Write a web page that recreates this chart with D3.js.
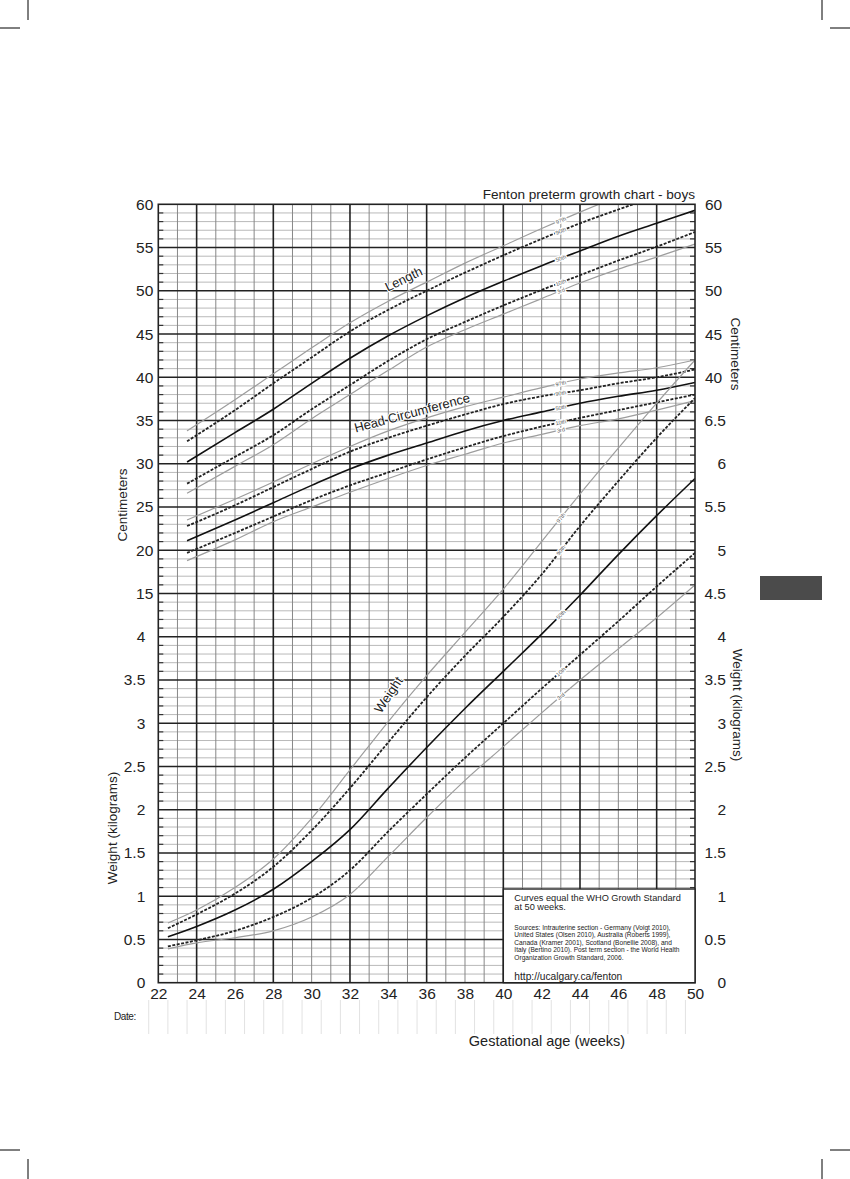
<!DOCTYPE html>
<head>
<meta charset="utf-8">
<script src="https://d3js.org/d3.v7.min.js"></script>
<style>
    body {
        margin: 0;
        background: #fff;
        font-family: "Liberation Sans", Arial, sans-serif;
    }
    text { fill: #222; }
    .minor-h { stroke: #b9b9b9; stroke-width: 1px; }
    .minor-v { stroke: #878787; stroke-width: 1px; }
    .major { stroke: #222; stroke-width: 1.6px; }
    .edge-tick { stroke: #333; stroke-width: 1.2px; }
    .frame { fill: none; stroke: #222; stroke-width: 1.6px; }
    .p50 { fill: none; stroke: #111; stroke-width: 1.6px; }
    .p10 { fill: none; stroke: #222; stroke-width: 1.8px; stroke-dasharray: 3,1.5; }
    .p3  { fill: none; stroke: #9d9d9d; stroke-width: 1.2px; }
    .axis text { font-size: 15.5px; fill: #222; }
    .axis path { display: none; }
    .date-line { stroke: #e2e2e2; stroke-width: 1px; }
    .pct-label { font-size: 5.5px; fill: #555; stroke: #fff; stroke-width: 2.5px; paint-order: stroke; }
    .curve-name { font-size: 13px; fill: #222; stroke: #fff; stroke-width: 2px; paint-order: stroke; }
    .crop { stroke: #000; stroke-width: 1px; }
</style>
</head>
<body>
<div id="vis"></div>
<script>
    // ---------- data ----------
    var weeksLen = [23.5, 26, 28, 30, 32, 34, 36, 38, 40, 42, 44, 46, 48, 50];
    var weeksWt  = [22.5, 24, 26, 28, 30, 32, 34, 36, 38, 40, 42, 44, 46, 48, 50];

    // length (cm)
    var len97 = [33.8, 37.4, 40.4, 43.4, 46.3, 48.8, 51.0, 53.2, 55.2, 57.2, 59.1, 60.9, 62.6, 64.2];
    var len90 = [32.6, 36.2, 39.3, 42.3, 45.3, 47.8, 50.0, 52.1, 54.1, 56.0, 57.8, 59.4, 60.9, 62.3];
    var len50 = [30.2, 33.6, 36.3, 39.3, 42.2, 44.8, 47.1, 49.2, 51.1, 52.9, 54.6, 56.3, 57.8, 59.3];
    var len10 = [27.7, 30.8, 33.3, 36.3, 39.1, 41.9, 44.4, 46.4, 48.3, 50.1, 51.8, 53.5, 55.1, 56.8];
    var len3  = [26.6, 29.7, 32.2, 35.2, 38.0, 40.8, 43.5, 45.5, 47.3, 49.1, 50.9, 52.5, 53.9, 55.4];

    // head circumference (cm)
    var hc97 = [23.5, 25.9, 27.9, 30.0, 32.0, 33.8, 35.3, 36.6, 37.7, 38.8, 39.8, 40.5, 41.1, 42.0];
    var hc90 = [22.8, 25.2, 27.3, 29.4, 31.4, 33.0, 34.4, 35.7, 36.9, 37.8, 38.5, 39.3, 40.0, 40.9];
    var hc50 = [21.1, 23.5, 25.5, 27.5, 29.4, 31.0, 32.4, 33.8, 35.0, 36.0, 37.0, 37.8, 38.5, 39.4];
    var hc10 = [19.7, 22.0, 23.9, 25.8, 27.5, 29.0, 30.5, 31.9, 33.2, 34.3, 35.3, 36.2, 37.1, 38.0];
    var hc3  = [18.8, 21.2, 23.3, 25.0, 26.7, 28.3, 29.8, 31.1, 32.4, 33.4, 34.4, 35.2, 36.2, 37.3];

    // weight (kg)
    var wt97 = [0.69, 0.84, 1.10, 1.43, 1.90, 2.46, 3.02, 3.55, 4.05, 4.55, 5.10, 5.65, 6.18, 6.70, 7.20];
    var wt90 = [0.63, 0.79, 1.03, 1.34, 1.76, 2.25, 2.78, 3.30, 3.78, 4.23, 4.72, 5.28, 5.80, 6.30, 6.76];
    var wt50 = [0.53, 0.65, 0.84, 1.08, 1.40, 1.77, 2.25, 2.72, 3.17, 3.60, 4.03, 4.48, 4.95, 5.40, 5.83];
    var wt10 = [0.42, 0.49, 0.60, 0.76, 0.98, 1.30, 1.75, 2.18, 2.60, 3.00, 3.40, 3.79, 4.18, 4.58, 4.97];
    var wt3  = [0.39, 0.46, 0.52, 0.60, 0.76, 1.02, 1.46, 1.91, 2.34, 2.73, 3.12, 3.50, 3.86, 4.22, 4.60];

    var pctNames = ["97th", "90th", "50th", "10th", "3rd"];

    // tick labels
    var xTicks = [22, 24, 26, 28, 30, 32, 34, 36, 38, 40, 42, 44, 46, 48, 50];
    var cmLeft = [60, 55, 50, 45, 40, 35, 30, 25, 20, 15];
    var kgLeft = [4, 3.5, 3, 2.5, 2, 1.5, 1, 0.5, 0];
    var cmRight = [60, 55, 50, 45, 40];
    var kgRight = [6.5, 6, 5.5, 5, 4.5, 4, 3.5, 3, 2.5, 2, 1.5, 1, 0.5, 0];

    var sources = [
        "Sources: Intrauterine section - Germany (Voigt 2010),",
        "United States (Olsen 2010), Australia (Roberts 1999),",
        "Canada (Kramer 2001), Scotland (Bonellie 2008), and",
        "Italy (Bertino 2010). Post term section - the World Health",
        "Organization Growth Standard, 2006."
    ];

    // ---------- layout ----------
    var W = 850, H = 1179;
    var pL = 158.3, pR = 695, pT = 204.3, pB = 982.7;
    var row = (pB - pT) / 18;

    var x = d3.scaleLinear().domain([22, 50]).range([pL, pR]);
    var yCm = d3.scaleLinear().domain([10, 60]).range([pT + 10 * row, pT]);
    var yKg = d3.scaleLinear().domain([0, 9]).range([pB, pT]);

    var svg = d3.select("#vis").append("svg")
        .attr("width", W)
        .attr("height", H);

    svg.append("defs").append("clipPath").attr("id", "plot-clip")
        .append("rect")
        .attr("x", pL).attr("y", pT)
        .attr("width", pR - pL).attr("height", pB - pT);

    ////////// grid //////////
    var grid = svg.append("g").attr("class", "grid");

    // minor horizontals every 0.1 kg (= 1 cm)
    grid.selectAll(".minor-h")
        .data(d3.range(0, 91).filter(function(k) { return k % 5 != 0; }))
        .enter().append("line")
        .attr("class", "minor-h")
        .attr("x1", pL).attr("x2", pR)
        .attr("y1", function(k) { return yKg(k / 10); })
        .attr("y2", function(k) { return yKg(k / 10); });

    // minor verticals every week
    grid.selectAll(".minor-v")
        .data(d3.range(23, 50).filter(function(w) { return w % 4 != 0; }))
        .enter().append("line")
        .attr("class", "minor-v")
        .attr("y1", pT).attr("y2", pB)
        .attr("x1", function(w) { return x(w); })
        .attr("x2", function(w) { return x(w); });

    // little ticks on both edges
    var edgeTicks = d3.range(1, 90).filter(function(k) { return k % 5 != 0; });
    grid.selectAll(".edge-l")
        .data(edgeTicks).enter().append("line")
        .attr("class", "edge-tick")
        .attr("x1", pL).attr("x2", pL + 5)
        .attr("y1", function(k) { return yKg(k / 10); })
        .attr("y2", function(k) { return yKg(k / 10); });
    grid.selectAll(".edge-r")
        .data(edgeTicks).enter().append("line")
        .attr("class", "edge-tick")
        .attr("x1", pR - 5).attr("x2", pR)
        .attr("y1", function(k) { return yKg(k / 10); })
        .attr("y2", function(k) { return yKg(k / 10); });

    // major lines
    grid.selectAll(".major-h")
        .data(d3.range(1, 18))
        .enter().append("line")
        .attr("class", "major")
        .attr("x1", pL).attr("x2", pR)
        .attr("y1", function(k) { return yKg(k / 2); })
        .attr("y2", function(k) { return yKg(k / 2); });

    grid.selectAll(".major-v")
        .data([24, 28, 32, 36, 40, 44, 48])
        .enter().append("line")
        .attr("class", "major")
        .attr("y1", pT).attr("y2", pB)
        .attr("x1", function(w) { return x(w); })
        .attr("x2", function(w) { return x(w); });

    ////////// curves //////////
    var curves = svg.append("g").attr("clip-path", "url(#plot-clip)");
    var styleOf = { "97th": "p3", "90th": "p10", "50th": "p50", "10th": "p10", "3rd": "p3" };

    var groups = [
        { weeks: weeksLen, scale: yCm, series: [len97, len90, len50, len10, len3] },
        { weeks: weeksLen, scale: yCm, series: [hc97, hc90, hc50, hc10, hc3] },
        { weeks: weeksWt, scale: yKg, series: [wt97, wt90, wt50, wt10, wt3] }
    ];

    function valueAt(weeks, vals, w) {
        for (var i = 1; i < weeks.length; i++) {
            if (w <= weeks[i]) {
                var t = (w - weeks[i - 1]) / (weeks[i] - weeks[i - 1]);
                return vals[i - 1] + t * (vals[i] - vals[i - 1]);
            }
        }
        return vals[vals.length - 1];
    }

    groups.forEach(function(g) {
        var line = d3.line()
            .x(function(d, i) { return x(g.weeks[i]); })
            .y(function(d) { return g.scale(d); })
            .curve(d3.curveMonotoneX);

        g.series.forEach(function(s, j) {
            curves.append("path")
                .attr("class", styleOf[pctNames[j]])
                .attr("d", line(s));
        });
    });

    // small percentile tags sitting on the curves at 43 weeks
    groups.forEach(function(g) {
        g.series.forEach(function(s, j) {
            var px = x(43), py = g.scale(valueAt(g.weeks, s, 43));
            var py2 = g.scale(valueAt(g.weeks, s, 44));
            var ang = Math.atan2(py2 - py, x(44) - px) * 180 / Math.PI;
            svg.append("text")
                .attr("class", "pct-label")
                .attr("text-anchor", "middle")
                .attr("dy", "0.35em")
                .attr("transform", "translate(" + px + "," + py + ") rotate(" + ang + ")")
                .text(pctNames[j]);
        });
    });

    // curve names
    svg.append("text").attr("class", "curve-name")
        .attr("text-anchor", "middle")
        .attr("transform", "translate(" + x(34.9) + "," + yCm(50.9) + ") rotate(-26)")
        .text("Length");
    svg.append("text").attr("class", "curve-name")
        .attr("text-anchor", "middle")
        .attr("transform", "translate(" + x(35.3) + "," + yCm(35.4) + ") rotate(-15)")
        .text("Head Circumference");
    svg.append("text").attr("class", "curve-name")
        .attr("text-anchor", "middle")
        .attr("transform", "translate(" + x(34.2) + "," + yKg(3.3) + ") rotate(-56)")
        .text("Weight");

    ////////// frame //////////
    svg.append("rect").attr("class", "frame")
        .attr("x", pL).attr("y", pT)
        .attr("width", pR - pL).attr("height", pB - pT);

    ////////// note box //////////
    var box = svg.append("g");
    var bx = x(40) + 11;
    box.append("rect")
        .attr("x", x(40)).attr("y", 889)
        .attr("width", pR - x(40)).attr("height", pB - 889)
        .attr("fill", "#fff").attr("stroke", "#222").attr("stroke-width", 1.4);
    box.append("text").attr("x", bx).attr("y", 901)
        .style("font-size", "9.2px").text("Curves equal the WHO Growth Standard");
    box.append("text").attr("x", bx).attr("y", 910)
        .style("font-size", "9.2px").text("at 50 weeks.");
    box.selectAll(".src").data(sources).enter().append("text")
        .attr("x", bx)
        .attr("y", function(d, i) { return 929.5 + i * 7.5; })
        .style("font-size", "6.6px")
        .text(function(d) { return d; });
    box.append("text").attr("x", bx).attr("y", 979.5)
        .style("font-size", "10.2px").text("http://ucalgary.ca/fenton");

    ////////// axes //////////
    var fmt = function(d) { return String(d); };
    svg.append("g").attr("class", "axis")
        .attr("transform", "translate(" + pL + ",0)")
        .call(d3.axisLeft(yCm).tickValues(cmLeft).tickFormat(fmt).tickSize(0).tickPadding(5));
    svg.append("g").attr("class", "axis")
        .attr("transform", "translate(" + pL + ",0)")
        .call(d3.axisLeft(yKg).tickValues(kgLeft).tickFormat(fmt).tickSize(0).tickPadding(13));
    svg.append("g").attr("class", "axis")
        .attr("transform", "translate(" + pR + ",0)")
        .call(d3.axisRight(yCm).tickValues(cmRight).tickFormat(fmt).tickSize(0).tickPadding(10));
    var rk = svg.append("g").attr("class", "axis")
        .attr("transform", "translate(" + pR + ",0)")
        .call(d3.axisRight(yKg).tickValues(kgRight).tickFormat(fmt).tickSize(0).tickPadding(31));
    rk.selectAll("text").attr("text-anchor", "end");
    svg.append("g").attr("class", "axis")
        .attr("transform", "translate(0," + pB + ")")
        .call(d3.axisBottom(x).tickValues(xTicks).tickFormat(fmt).tickSize(0).tickPadding(5));

    // axis titles
    function vTitle(tx, ty, rot, txt) {
        svg.append("text")
            .attr("text-anchor", "middle")
            .attr("transform", "translate(" + tx + "," + ty + ") rotate(" + rot + ")")
            .style("font-size", "13.5px")
            .text(txt);
    }
    vTitle(127, 505, -90, "Centimeters");
    vTitle(117, 828, -90, "Weight (kilograms)");
    vTitle(731, 354, 90, "Centimeters");
    vTitle(733, 705, 90, "Weight (kilograms)");

    svg.append("text")
        .attr("x", pR).attr("y", 199)
        .attr("text-anchor", "end")
        .style("font-size", "13.6px")
        .text("Fenton preterm growth chart - boys");

    // date row
    svg.append("text").attr("x", 114).attr("y", 1019.5)
        .style("font-size", "10px").style("letter-spacing", "-0.4px").text("Date:");
    svg.selectAll(".date-line")
        .data(d3.range(21.5, 50, 1))
        .enter().append("line")
        .attr("class", "date-line")
        .attr("x1", function(w) { return x(w); })
        .attr("x2", function(w) { return x(w); })
        .attr("y1", 1000).attr("y2", 1034);

    svg.append("text")
        .attr("x", 547).attr("y", 1046)
        .attr("text-anchor", "middle")
        .style("font-size", "14.5px")
        .text("Gestational age (weeks)");

    // side tab
    svg.append("rect")
        .attr("x", 760).attr("y", 576).attr("width", 62).attr("height", 24)
        .attr("fill", "#4b4b4b");

    // crop marks
    var crops = [
        [28, 0, 28, 20], [0, 28, 20, 28],
        [822, 0, 822, 20], [830, 28, 850, 28],
        [0, 1150, 20, 1150], [28, 1159, 28, 1179],
        [830, 1150, 850, 1150], [822, 1159, 822, 1179]
    ];
    svg.selectAll(".crop").data(crops).enter().append("line")
        .attr("class", "crop")
        .attr("x1", function(d) { return d[0]; })
        .attr("y1", function(d) { return d[1]; })
        .attr("x2", function(d) { return d[2]; })
        .attr("y2", function(d) { return d[3]; });
</script>
</body>
